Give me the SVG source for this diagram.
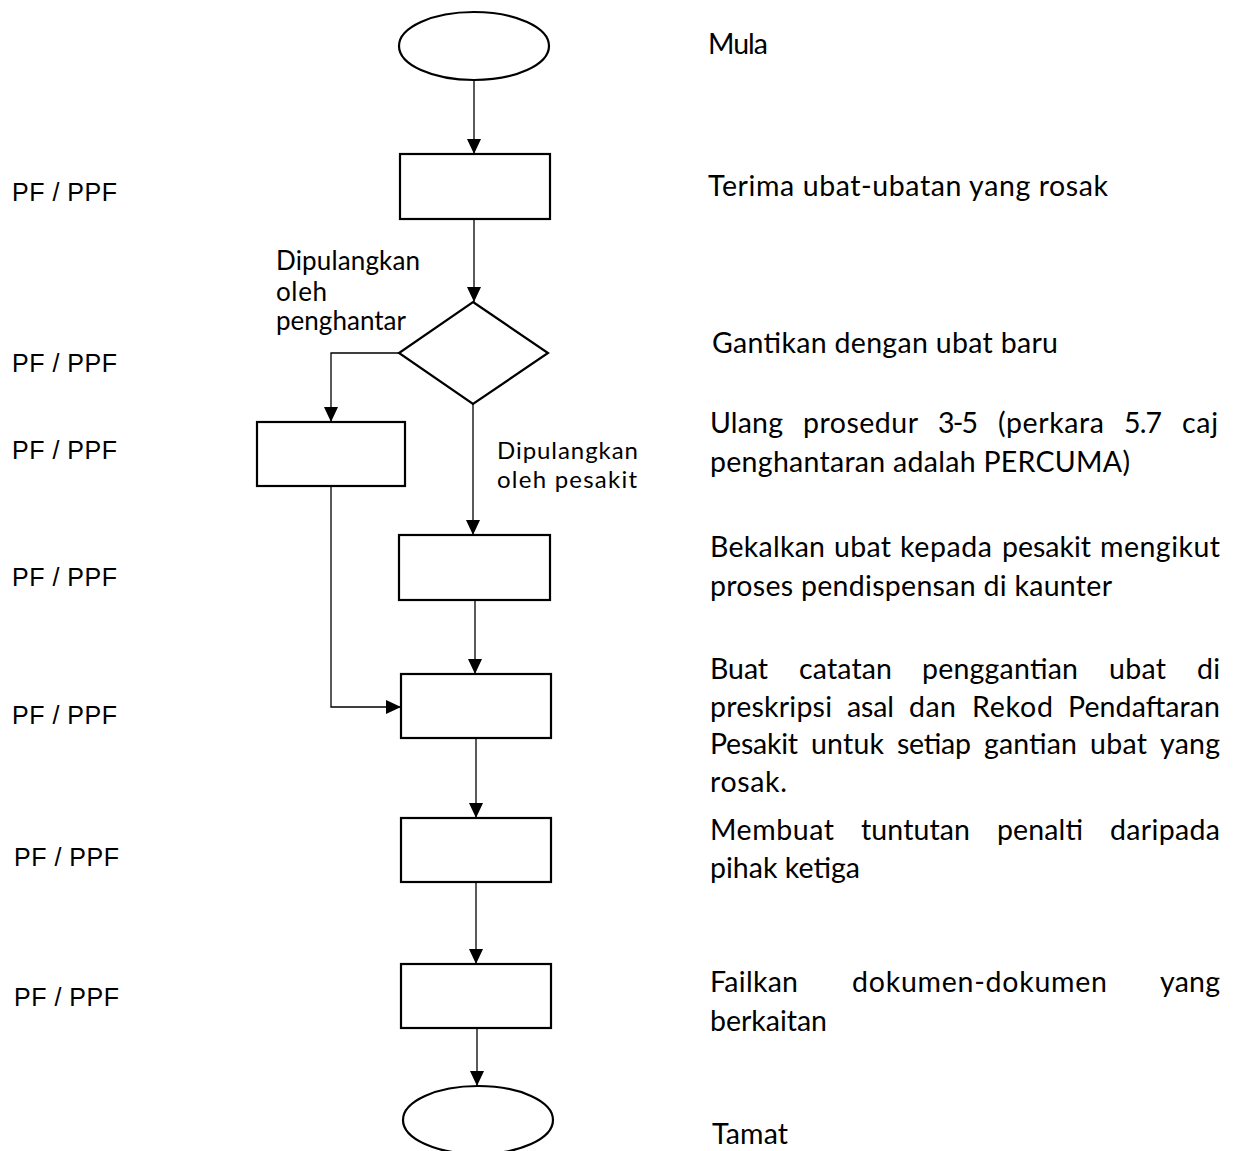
<svg xmlns="http://www.w3.org/2000/svg" width="1234" height="1151" viewBox="0 0 1234 1151">
<style>
.shape{fill:#fff;stroke:#000;stroke-width:2.2}
.conn{fill:none;stroke:#000;stroke-width:1.3}
.t{font-family:Lato,"Liberation Sans",sans-serif;font-size:28.5px;fill:#000}
.lbl{font-family:Lato,"Liberation Sans",sans-serif;font-size:26px;fill:#000}
.lbl2{font-family:Lato,"Liberation Sans",sans-serif;font-size:24px;fill:#000}
.pf{font-family:"Liberation Sans",Arial,sans-serif;font-size:25px;fill:#000}
</style>
<defs>
<marker id="arr" viewBox="0 0 15 14" refX="15" refY="7" markerWidth="15" markerHeight="14" markerUnits="userSpaceOnUse" orient="auto">
<path d="M0,0 L15,7 L0,14 z" fill="#000"/>
</marker>
</defs>
<rect width="1234" height="1151" fill="#fff"/>
<g id="connectors">
<path class="conn" d="M474,80 V154" marker-end="url(#arr)"/>
<path class="conn" d="M474,219 V302" marker-end="url(#arr)"/>
<path class="conn" d="M399,353 H331 V422" marker-end="url(#arr)"/>
<path class="conn" d="M473,404 V535" marker-end="url(#arr)"/>
<path class="conn" d="M331,486 V707 H401" marker-end="url(#arr)"/>
<path class="conn" d="M475,600 V674" marker-end="url(#arr)"/>
<path class="conn" d="M476,738 V818" marker-end="url(#arr)"/>
<path class="conn" d="M476,882 V964" marker-end="url(#arr)"/>
<path class="conn" d="M477,1028 V1086" marker-end="url(#arr)"/>
</g>
<g id="start"><ellipse class="shape" cx="474" cy="46" rx="75" ry="34"/></g>
<g id="box1"><rect class="shape" x="400" y="154" width="150" height="65"/></g>
<g id="decision"><polygon class="shape" points="473,302 548,353 473,404 399,353"/></g>
<g id="box2"><rect class="shape" x="257" y="422" width="148" height="64"/></g>
<g id="box3"><rect class="shape" x="399" y="535" width="151" height="65"/></g>
<g id="box4"><rect class="shape" x="401" y="674" width="150" height="64"/></g>
<g id="box5"><rect class="shape" x="401" y="818" width="150" height="64"/></g>
<g id="box6"><rect class="shape" x="401" y="964" width="150" height="64"/></g>
<g id="end"><ellipse class="shape" cx="478" cy="1120" rx="75" ry="34"/></g>
<g id="branch-labels">
<text class="lbl"><tspan x="276" y="270" textLength="144">Dipulangkan</tspan><tspan x="276" y="301" textLength="51">oleh</tspan><tspan x="276" y="330" textLength="130">penghantar</tspan></text>
<text class="lbl2" x="497" y="459" textLength="141">Dipulangkan</text>
<text class="lbl2" x="497" y="488" textLength="140">oleh pesakit</text>
</g>
<g id="roles">
<text class="pf" x="12" y="201" textLength="105">PF / PPF</text>
<text class="pf" x="12" y="372" textLength="105">PF / PPF</text>
<text class="pf" x="12" y="459" textLength="105">PF / PPF</text>
<text class="pf" x="12" y="586" textLength="105">PF / PPF</text>
<text class="pf" x="12" y="724" textLength="105">PF / PPF</text>
<text class="pf" x="14" y="866" textLength="105">PF / PPF</text>
<text class="pf" x="14" y="1006" textLength="105">PF / PPF</text>
</g>
<g id="descriptions">
<text class="t" x="708" y="54" textLength="60">Mula</text>
<text class="t" x="708" y="196" textLength="400">Terima ubat-ubatan yang rosak</text>
<text class="t" x="712" y="353" textLength="346">Gantikan dengan ubat baru</text>
<text class="t" y="433"><tspan x="710" textLength="73">Ulang</tspan><tspan x="803" textLength="115">prosedur</tspan><tspan x="938" textLength="40">3-5</tspan><tspan x="998" textLength="106">(perkara</tspan><tspan x="1124" textLength="38">5.7</tspan><tspan x="1182" textLength="36">caj</tspan></text>
<text class="t" x="710" y="472" textLength="420">penghantaran adalah PERCUMA)</text>
<text class="t" y="557"><tspan x="710" textLength="115">Bekalkan</tspan><tspan x="834" textLength="57">ubat</tspan><tspan x="900" textLength="92">kepada</tspan><tspan x="1002" textLength="89">pesakit</tspan><tspan x="1100" textLength="120">mengikut</tspan></text>
<text class="t" x="710" y="596" textLength="402">proses pendispensan di kaunter</text>
<text class="t" y="679"><tspan x="710" textLength="58">Buat</tspan><tspan x="799" textLength="93">catatan</tspan><tspan x="922" textLength="156">penggantian</tspan><tspan x="1109" textLength="57">ubat</tspan><tspan x="1197" textLength="23">di</tspan></text>
<text class="t" y="717"><tspan x="710" textLength="122">preskripsi</tspan><tspan x="847" textLength="47">asal</tspan><tspan x="909" textLength="47">dan</tspan><tspan x="972" textLength="81">Rekod</tspan><tspan x="1068" textLength="152">Pendaftaran</tspan></text>
<text class="t" y="754"><tspan x="710" textLength="88">Pesakit</tspan><tspan x="811" textLength="73">untuk</tspan><tspan x="897" textLength="74">setiap</tspan><tspan x="984" textLength="93">gantian</tspan><tspan x="1090" textLength="57">ubat</tspan><tspan x="1160" textLength="60">yang</tspan></text>
<text class="t" x="710" y="792" textLength="77">rosak.</text>
<text class="t" y="840"><tspan x="710" textLength="124">Membuat</tspan><tspan x="861" textLength="109">tuntutan</tspan><tspan x="997" textLength="86">penalti</tspan><tspan x="1110" textLength="110">daripada</tspan></text>
<text class="t" x="710" y="878" textLength="150">pihak ketiga</text>
<text class="t" y="992"><tspan x="710" textLength="88">Failkan</tspan><tspan x="852" textLength="255">dokumen-dokumen</tspan><tspan x="1160" textLength="60">yang</tspan></text>
<text class="t" x="710" y="1031" textLength="117">berkaitan</text>
<text class="t" x="712" y="1144" textLength="76">Tamat</text>
</g>
</svg>
